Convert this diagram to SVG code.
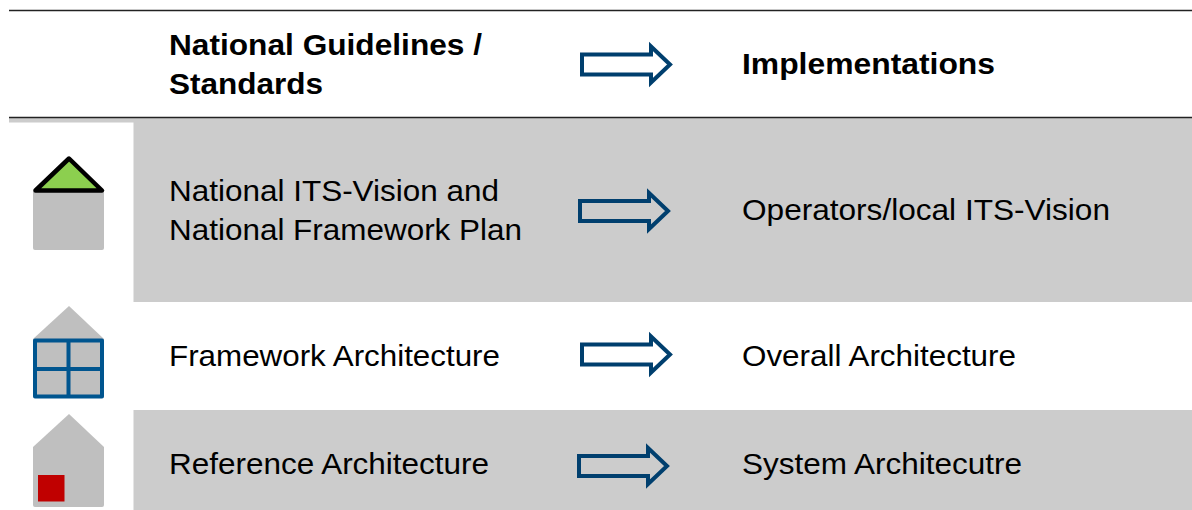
<svg xmlns="http://www.w3.org/2000/svg" width="1192" height="510" viewBox="0 0 1192 510">
<style>
text{font-family:"Liberation Sans",Arial,sans-serif;font-size:30px;fill:#000}
.b{font-weight:bold}
.band{fill:#cccccc}
.house{fill:#bfbfbf}
.arrow{fill:none;stroke:#003f6e;stroke-width:4;stroke-linejoin:miter}
</style>
<defs>
<path id="arr" d="M582 54.500H651V46.500L670 64.500L651 82.500V74.500H582Z"/>
</defs>
<rect width="1192" height="510" fill="#fff"/>
<g id="bands">
<rect class="band" x="9" y="118" width="1183" height="4.500"/>
<rect class="band" x="133.500" y="118" width="1058.500" height="184"/>
<rect class="band" x="133.500" y="410" width="1058.500" height="100"/>
</g>
<g id="rules" stroke="#222" stroke-width="1.500">
<line x1="9" y1="10.500" x2="1192" y2="10.500"/>
<line x1="9" y1="117.500" x2="1192" y2="117.500"/>
</g>
<g id="icon-vision">
<rect class="house" x="33" y="190" width="71" height="60" rx="2"/>
<path d="M35.500 190.500L69 158.500L102 190.500Z" fill="#8ccf4f" stroke="#000" stroke-width="4.500" stroke-linejoin="round"/>
</g>
<g id="icon-framework">
<path class="house" d="M33 339L69 306L104 339V396H33Z"/>
<path d="M35 340.500H102V396.500H35ZM68.500 340.500V396.500M35 369H102" fill="none" stroke="#00558f" stroke-width="4" stroke-linejoin="round"/>
</g>
<g id="icon-reference">
<path class="house" d="M33 447L69 414L104 447V505Q104 507 102 507H35Q33 507 33 505Z"/>
<rect x="38" y="475" width="26.500" height="26.500" fill="#c00000"/>
</g>
<g id="header">
<text class="b" x="169" y="55" textLength="313" lengthAdjust="spacingAndGlyphs">National Guidelines /</text>
<text class="b" x="169" y="94" textLength="154" lengthAdjust="spacingAndGlyphs">Standards</text>
<text class="b" x="742" y="74" textLength="253" lengthAdjust="spacingAndGlyphs">Implementations</text>
</g>
<g id="row-vision">
<text x="169" y="201" textLength="330" lengthAdjust="spacingAndGlyphs">National ITS-Vision and</text>
<text x="169" y="240" textLength="353" lengthAdjust="spacingAndGlyphs">National Framework Plan</text>
<text x="742" y="220" textLength="368" lengthAdjust="spacingAndGlyphs">Operators/local ITS-Vision</text>
</g>
<g id="row-framework">
<text x="169" y="366" textLength="331" lengthAdjust="spacingAndGlyphs">Framework Architecture</text>
<text x="742" y="366" textLength="274" lengthAdjust="spacingAndGlyphs">Overall Architecture</text>
</g>
<g id="row-reference">
<text x="169" y="474" textLength="320" lengthAdjust="spacingAndGlyphs">Reference Architecture</text>
<text x="742" y="474" textLength="280" lengthAdjust="spacingAndGlyphs">System Architecutre</text>
</g>
<g id="connectors">
<use href="#arr" class="arrow"/>
<use href="#arr" class="arrow" transform="translate(-2 146.500)"/>
<use href="#arr" class="arrow" transform="translate(0 290)"/>
<use href="#arr" class="arrow" transform="translate(-3 401.500)"/>
</g>
</svg>
